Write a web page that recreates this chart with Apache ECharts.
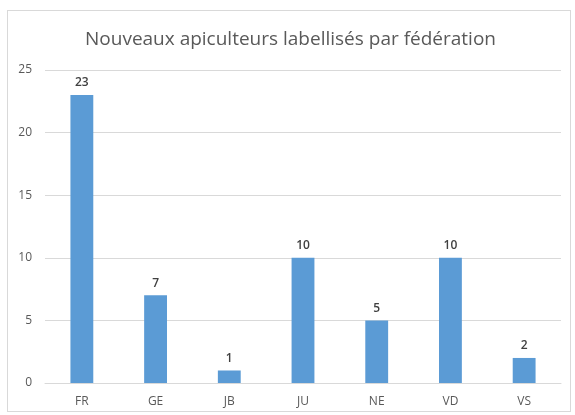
<!DOCTYPE html>
<html>
<head>
<meta charset="utf-8">
<script src="https://cdn.jsdelivr.net/npm/echarts@6/dist/echarts.min.js"></script>
<style>
html,body{margin:0;padding:0;background:#fff;}
#frame{position:absolute;left:7px;top:10px;width:564px;height:402px;border:1px solid #d9d9d9;box-sizing:border-box;}
#chart{position:absolute;left:0;top:0;width:575px;height:415px;}
</style>
</head>
<body>
<div id="frame"></div>
<div id="chart"></div>
<script>
const title = "Nouveaux apiculteurs labellisés par fédération";
const categories = ["FR","GE","JB","JU","NE","VD","VS"];
const values = [23,7,1,10,5,10,2];
const yTicks = {min:0, max:25, interval:5};

const chart = echarts.init(document.getElementById('chart'));
chart.setOption({
  animation:false,
  title:{
    text:title, left:80, top:25,
    textStyle:{fontFamily:'Open Sans', fontSize:19, fontWeight:'normal', color:'#595959'}
  },
  grid:{left:45, right:14, top:70, bottom:32},
  xAxis:{
    type:'category', data:categories,
    axisLine:{lineStyle:{color:'#d9d9d9'}},
    axisTick:{show:false},
    axisLabel:{color:'#595959', fontFamily:'Open Sans', fontSize:12, margin:13}
  },
  yAxis:{
    type:'value', min:yTicks.min, max:yTicks.max, interval:yTicks.interval,
    axisLine:{show:false}, axisTick:{show:false},
    splitLine:{lineStyle:{color:'#d9d9d9'}},
    axisLabel:{color:'#595959', fontFamily:'Open Sans', fontSize:12, margin:13}
  },
  series:[{
    type:'bar', data:values, barWidth:'31%',
    itemStyle:{color:'#5b9bd5'},
    label:{show:true, position:'top', distance:6, color:'#404040', fontFamily:'Open Sans', fontSize:12, fontWeight:600}
  }]
});
</script>
</body>
</html>
